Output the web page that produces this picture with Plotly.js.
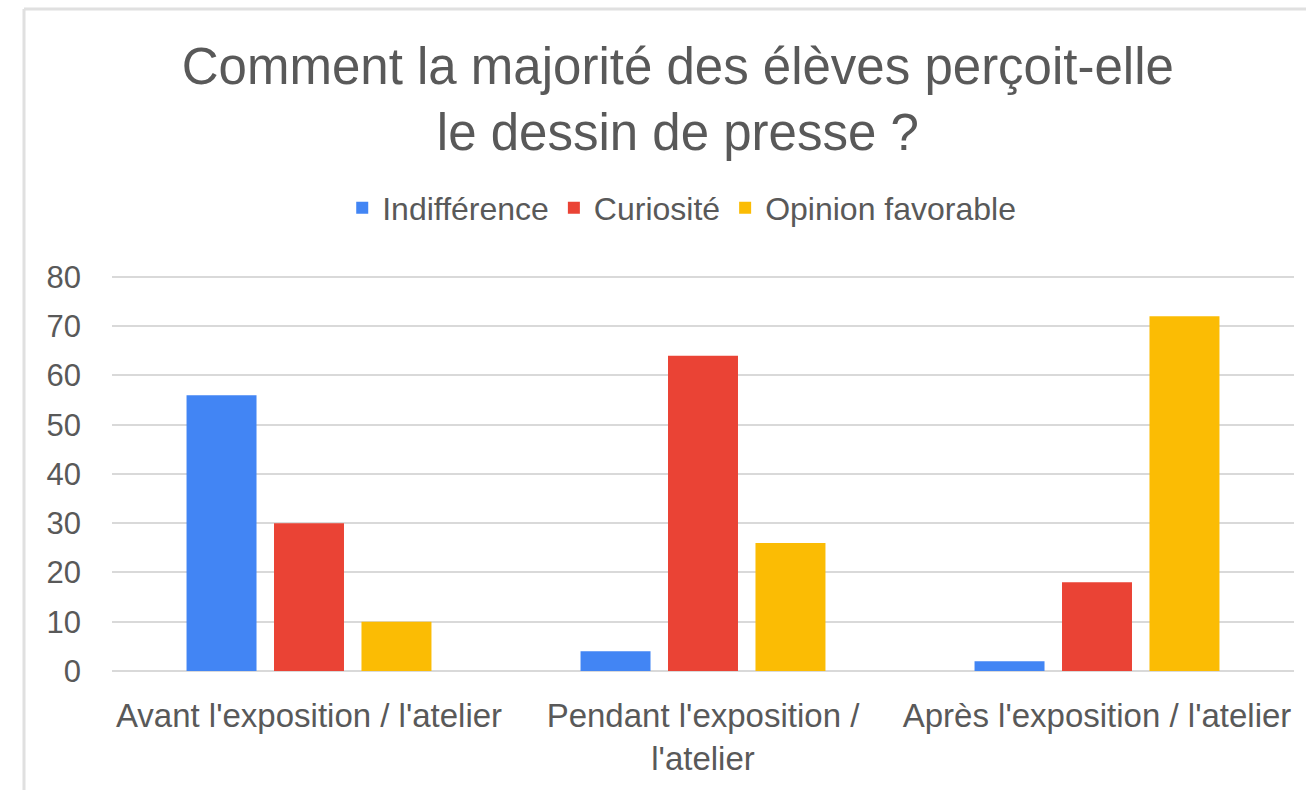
<!DOCTYPE html>
<html>
<head>
<meta charset="utf-8">
<script src="https://cdn.plot.ly/plotly-3.0.1.min.js"></script>
<style>
  html, body { margin: 0; padding: 0; background: #ffffff; }
  #chart { width: 1306px; height: 790px; }
</style>
</head>
<body>
<div id="chart"></div>
<script>
const categories = [
  "Avant l'exposition / l'atelier",
  "Pendant l'exposition /<br>l'atelier",
  "Après l'exposition / l'atelier"
];
const seriesNames = ["Indifférence", "Curiosité", "Opinion favorable"];
const indifference = [56, 4, 2];
const curiosite = [30, 64, 18];
const opinionFavorable = [10, 26, 72];
const seriesColors = ["#4285F4", "#EA4335", "#FBBC04"];
const yTicks = [0, 10, 20, 30, 40, 50, 60, 70, 80];

const seriesValues = [indifference, curiosite, opinionFavorable];
const traces = seriesValues.map((vals, i) => ({
  type: "bar",
  name: seriesNames[i],
  x: categories,
  y: vals,
  marker: { color: seriesColors[i] },
  hoverinfo: "x+y+name"
}));

const textColor = "#595959";
const font = "'Liberation Sans', Arial, Helvetica, sans-serif";

const layout = {
  width: 1306,
  height: 790,
  paper_bgcolor: "#ffffff",
  plot_bgcolor: "#ffffff",
  margin: { l: 112, r: 12, t: 272, b: 119, pad: 0 },
  font: { family: font, color: textColor, size: 30 },
  title: {
    text: "Comment la majorité des élèves perçoit-elle<br>le dessin de presse ?",
    font: { family: font, size: 51, color: textColor },
    xref: "container",
    yref: "container",
    x: 0.519,
    xanchor: "center",
    y: 1 - 84 / 790,
    yanchor: "middle"
  },
  showlegend: true,
  legend: {
    orientation: "h",
    xref: "container",
    yref: "container",
    x: 0.522,
    xanchor: "center",
    y: 1 - 208 / 790,
    yanchor: "middle",
    font: { family: font, size: 32, color: textColor },
    itemclick: false,
    itemdoubleclick: false,
    traceorder: "normal"
  },
  barmode: "group",
  bargap: 0.334,
  bargroupgap: 0.2,
  xaxis: {
    type: "category",
    showgrid: false,
    zeroline: false,
    showline: false,
    ticks: "",
    ticklabelstandoff: 22,
    tickfont: { family: font, size: 33, color: textColor },
    automargin: false
  },
  yaxis: {
    range: [0, 81],
    tickvals: yTicks,
    ticktext: yTicks.map(String),
    showgrid: true,
    gridcolor: "#d9d9d9",
    gridwidth: 2,
    zeroline: true,
    zerolinecolor: "#d9d9d9",
    zerolinewidth: 2,
    showline: false,
    ticks: "",
    ticklabelstandoff: 30,
    tickfont: { family: font, size: 31, color: textColor },
    automargin: false
  },
  shapes: [
    { type: "line", xref: "paper", yref: "paper", layer: "below",
      x0: -88 / 1182, x1: 1194 / 1182, y0: 1 + 263 / 399, y1: 1 + 263 / 399,
      line: { color: "#e0e0e0", width: 3 } },
    { type: "line", xref: "paper", yref: "paper", layer: "below",
      x0: -88 / 1182, x1: -88 / 1182, y0: 1 + 263 / 399, y1: -130 / 399,
      line: { color: "#e0e0e0", width: 3 } }
  ]
};

Plotly.newPlot("chart", traces, layout, { displayModeBar: false, staticPlot: false });
</script>
</body>
</html>
